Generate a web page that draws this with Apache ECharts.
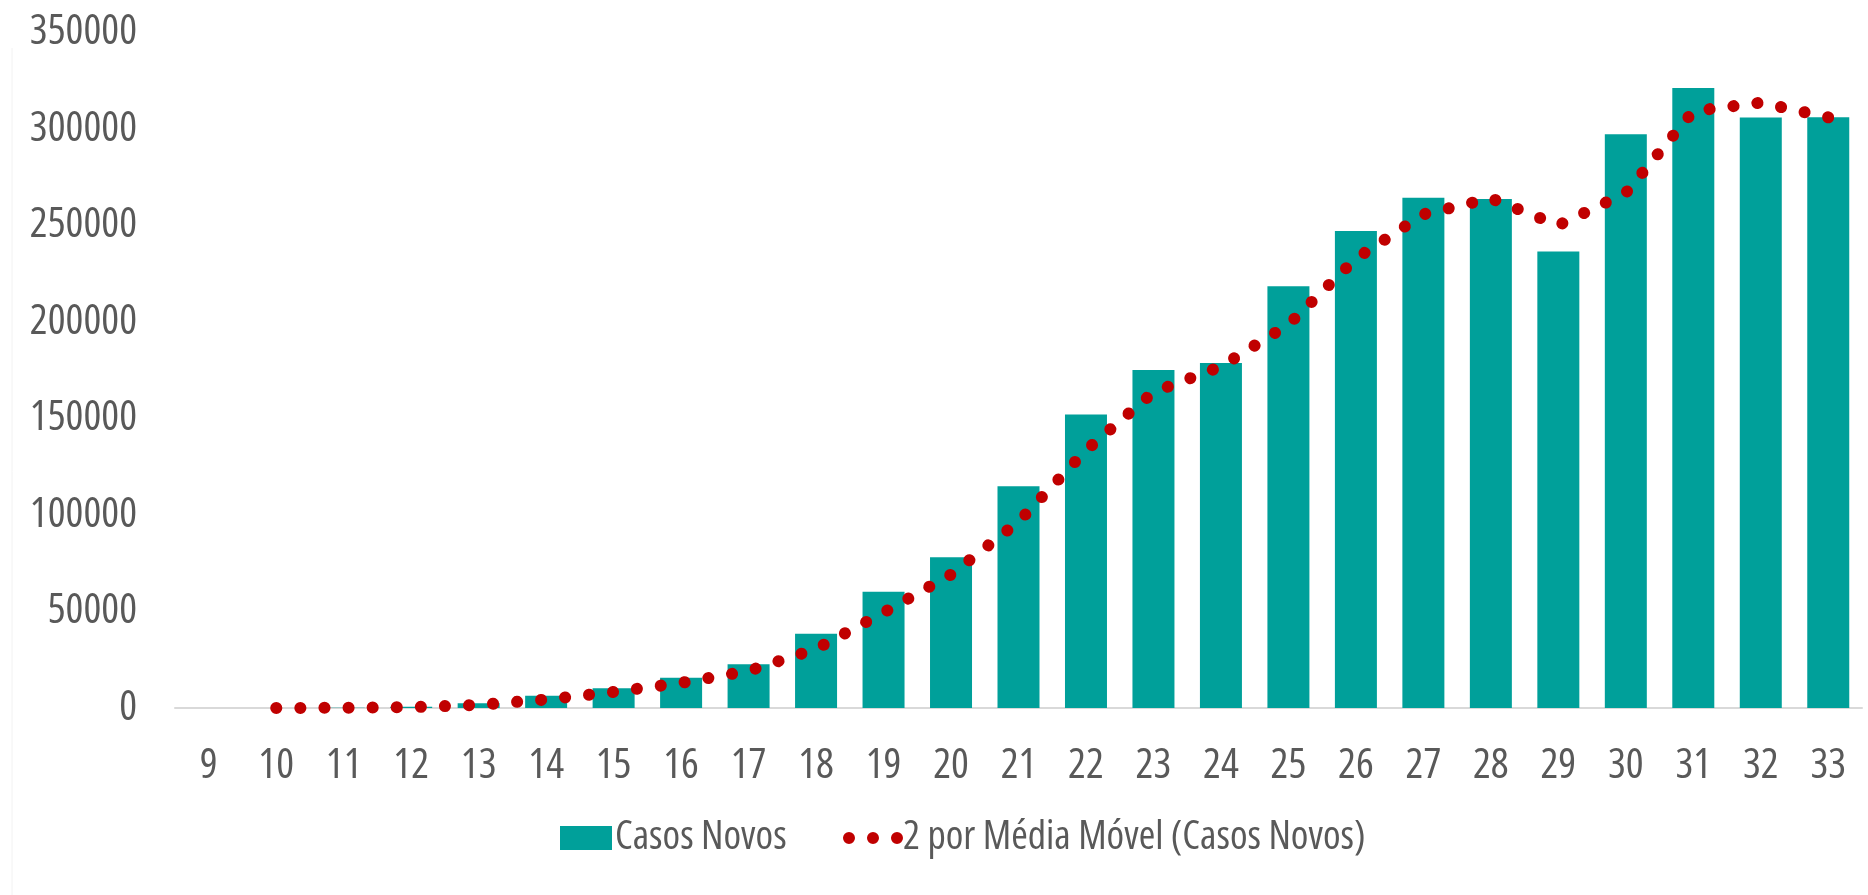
<!DOCTYPE html>
<html>
<head>
<meta charset="utf-8">
<script src="https://cdn.jsdelivr.net/npm/echarts@6/dist/echarts.min.js"></script>
<style>
  html, body { margin: 0; padding: 0; background: #fff; }
  #chart { width: 1868px; height: 895px; }
</style>
</head>
<body>
<div id="chart"></div>
<script>
const weeks = ['9', '10', '11', '12', '13', '14', '15', '16', '17', '18', '19', '20', '21',
  '22', '23', '24', '25', '26', '27', '28', '29', '30', '31', '32', '33']

// weekly new cases (bars)
const casosNovos = [0, 40, 150, 700, 2500, 6300, 10200, 15700, 22700, 38500, 60200, 78000, 114800,
  152000, 175000, 178600, 218300, 247000, 264200, 263500, 236300, 297000, 321000, 305700, 305800]

// 2-period moving average trendline
const mediaMovel = ['-', 20, 100, 420, 1600, 4400, 8300, 13000, 19200, 30600, 49400, 69100, 96400,
  133400, 163500, 176800, 198500, 232700, 255600, 263900, 249900, 266700, 309000, 313400, 305800]

const yTicks = { min: 0, max: 350000, interval: 50000 }

// Open Sans is a variable font here, so font-stretch gives a narrow face (close to the DIN look)
const FONT = '"Open Sans", sans-serif'
const WEIGHT = '500 condensed'
const TEXT = '#595959'
const TEAL = '#00A09A'
const RED = '#C00000'

const chart = echarts.init(document.getElementById('chart'))

const threeDots = 'path://M0,6a6,6 0 1,0 12,0a6,6 0 1,0 -12,0Z' +
  'M24,6a6,6 0 1,0 12,0a6,6 0 1,0 -12,0Z' +
  'M48,6a6,6 0 1,0 12,0a6,6 0 1,0 -12,0Z'

const labelFont = { fontFamily: FONT, fontStyle: 'normal', fontWeight: WEIGHT, fontSize: 42, color: TEXT }

chart.setOption({
  animation: false,
  backgroundColor: '#fff',
  grid: { left: 175, right: 6, top: 32, bottom: 187 },
  graphic: [{
    type: 'line',
    shape: { x1: 12, y1: 48, x2: 12, y2: 895 },
    style: { stroke: '#F2F2F2', lineWidth: 1 }
  }],
  legend: [
    {
      data: ['Casos Novos'],
      left: 555, top: 813,
      itemWidth: 52, itemHeight: 24, itemGap: 0,
      icon: 'rect',
      textStyle: Object.assign({}, labelFont, { fontSize: 40, padding: [0, 0, 0, -2] })
    },
    {
      data: [{ name: '2 por Média Móvel (Casos Novos)', icon: threeDots }],
      left: 838, top: 813,
      itemWidth: 60, itemHeight: 12, itemGap: 0,
      textStyle: Object.assign({}, labelFont, { fontSize: 40, padding: [0, 0, 0, -5] })
    }
  ],
  xAxis: {
    type: 'category',
    data: weeks,
    axisTick: { show: false },
    axisLine: { lineStyle: { color: '#D9D9D9', width: 2 } },
    axisLabel: Object.assign({ margin: 37 }, labelFont)
  },
  yAxis: {
    type: 'value',
    min: yTicks.min, max: yTicks.max, interval: yTicks.interval,
    splitLine: { show: false },
    axisLine: { show: false },
    axisTick: { show: false },
    axisLabel: Object.assign({ margin: 38, formatter: v => String(v) }, labelFont)
  },
  series: [
    {
      name: 'Casos Novos',
      type: 'bar',
      data: casosNovos,
      barWidth: 42,
      itemStyle: { color: TEAL }
    },
    {
      name: '2 por Média Móvel (Casos Novos)',
      type: 'line',
      data: mediaMovel,
      showSymbol: false,
      symbol: 'none',
      itemStyle: { color: RED },
      lineStyle: { color: RED, width: 12, type: [0.1, 24], cap: 'round' }
    }
  ]
})

window.addEventListener('resize', () => chart.resize())
</script>
</body>
</html>
